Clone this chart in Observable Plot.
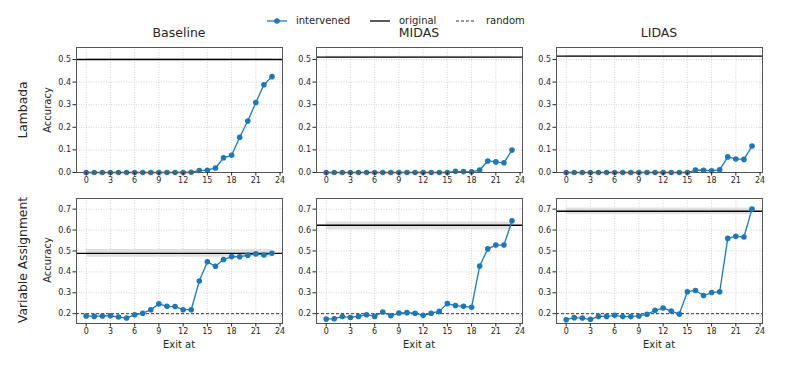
<!DOCTYPE html>
<html><head><meta charset="utf-8">
<script src="https://cdn.jsdelivr.net/npm/d3@7"></script>
<script src="https://cdn.jsdelivr.net/npm/@observablehq/plot@0.6"></script>
<style>
body{margin:0;background:#fff;font-family:"DejaVu Sans",sans-serif;color:#262626}
#wrap{position:relative;width:793px;height:366px;overflow:hidden;background:#fff}
.abs{position:absolute;white-space:nowrap;line-height:1}
.title{font-size:12.5px;transform:translate(-50%,-50%)}
.row{font-size:12.3px;transform:translate(-50%,-50%) rotate(-90deg)}
.ylab{font-size:10px;transform:translate(-50%,-50%) rotate(-90deg)}
.xlab{font-size:10px;transform:translate(-50%,-50%)}
.leg{font-size:10px;transform:translateY(-50%)}
</style></head><body>
<div id="wrap"></div>
<script>
const methods = ["Baseline", "MIDAS", "LIDAS"];
const tasks = ["Lambada", "Variable Assignment"];
const exits = d3.range(24);
const xTicks = [0, 3, 6, 9, 12, 15, 18, 21, 24];
const yTicksLambada = [0, 0.1, 0.2, 0.3, 0.4, 0.5];
const yTicksVA = [0.2, 0.3, 0.4, 0.5, 0.6, 0.7];

// intervened accuracy per exit layer
const lambadaBaseline = [0,0,0,0,0,0,0,0,0,0,0,0,0,0.001,0.009,0.01,0.02,0.065,0.076,0.156,0.228,0.31,0.388,0.424];
const lambadaMIDAS    = [0,0,0,0,0,0,0,0,0,0,0,0,0,0,0,0,0.005,0.004,0.003,0.011,0.051,0.047,0.043,0.099];
const lambadaLIDAS    = [0,0,0,0,0,0,0,0,0,0,0,0,0,0,0,0,0.011,0.01,0.008,0.012,0.069,0.06,0.058,0.117];
const vaBaseline = [0.189,0.187,0.189,0.19,0.184,0.179,0.195,0.202,0.219,0.247,0.235,0.234,0.219,0.219,0.356,0.448,0.427,0.459,0.473,0.472,0.48,0.486,0.481,0.489];
const vaMIDAS    = [0.174,0.176,0.186,0.182,0.187,0.195,0.187,0.208,0.19,0.203,0.205,0.202,0.192,0.202,0.211,0.248,0.239,0.235,0.231,0.428,0.51,0.528,0.528,0.644];
const vaLIDAS    = [0.171,0.181,0.179,0.173,0.187,0.187,0.192,0.186,0.186,0.189,0.197,0.216,0.227,0.213,0.198,0.305,0.311,0.287,0.301,0.305,0.56,0.57,0.567,0.7];

// original accuracy and its band [lo, hi]
const originalLambada = [0.5, 0.51, 0.515];
const originalLambadaBand = [[0.496, 0.504], [0.505, 0.514], [0.51, 0.518]];
const originalVA = [0.488, 0.623, 0.69];
const originalVABand = [[0.47, 0.507], [0.602, 0.639], [0.674, 0.705]];
const randomVA = 0.2;

const intervened = [[lambadaBaseline, lambadaMIDAS, lambadaLIDAS], [vaBaseline, vaMIDAS, vaLIDAS]];
const originals = [originalLambada, originalVA];
const bands = [originalLambadaBand, originalVABand];

const blue = "#1f77b4";
const wrap = document.getElementById("wrap");
const frameLefts = [76, 316, 556];
const frameTops = [47, 198];
const fw = 206, fh = 125;
const ML = 40, MR = 6, MT = 5, MB = 30;
const yDomains = [[0, 0.553], [0.153, 0.751]];

function add(html, cls, x, y) {
  const d = document.createElement("div");
  d.className = "abs " + cls;
  d.style.left = x + "px"; d.style.top = y + "px";
  d.textContent = html;
  wrap.appendChild(d);
}

for (let r = 0; r < 2; r++) {
  for (let c = 0; c < 3; c++) {
    const vals = intervened[r][c];
    const data = exits.map((e, i) => ({x: e, y: vals[i]}));
    const yT = r === 0 ? yTicksLambada : yTicksVA;
    const band = bands[r][c];
    const marks = [
      Plot.gridX(xTicks, {stroke: "#bbb", strokeOpacity: 0.8, strokeDasharray: "1,1.5", strokeWidth: 0.8}),
      Plot.gridY(yT, {stroke: "#bbb", strokeOpacity: 0.8, strokeDasharray: "1,1.5", strokeWidth: 0.8}),
      Plot.areaY([{x: 0}, {x: 23}], {x: "x", y1: () => band[0], y2: () => band[1], fill: "#d9d9d9", fillOpacity: 0.8}),
      Plot.ruleY([originals[r][c]], {stroke: "#000", strokeWidth: 1.3})
    ];
    if (r === 1) marks.push(Plot.ruleY([randomVA], {stroke: "#333", strokeWidth: 1, strokeDasharray: "3,2"}));
    marks.push(
      Plot.line(data, {x: "x", y: "y", stroke: blue, strokeWidth: 1.3}),
      Plot.dot(data, {x: "x", y: "y", r: 2.8, fill: blue, stroke: "none"}),
      Plot.frame({stroke: "#555", strokeWidth: 1}),
      Plot.axisX(xTicks, {tickSize: 3.5, tickPadding: 1.5, label: null, fontSize: 8}),
      Plot.axisY(yT, {tickSize: 3.5, tickPadding: 2, label: null, tickFormat: d3.format(".1f"), fontSize: 8})
    );
    const p = Plot.plot({
      width: ML + fw + MR, height: MT + fh + MB,
      marginLeft: ML, marginRight: MR, marginTop: MT, marginBottom: MB,
      x: {domain: [-1.2, 24.3]},
      y: {domain: yDomains[r]},
      style: {fontFamily: "DejaVu Sans", fontSize: "8px", color: "#262626", background: "transparent", overflow: "visible"},
      marks
    });
    const holder = document.createElement("div");
    holder.style.position = "absolute";
    holder.style.left = (frameLefts[c] - ML) + "px";
    holder.style.top = (frameTops[r] - MT) + "px";
    holder.appendChild(p);
    wrap.appendChild(holder);
  }
}

methods.forEach((m, c) => add(m, "title", frameLefts[c] + fw / 2, 33));
add(tasks[0], "row", 23, 110);
add(tasks[1], "row", 23, 260);
add("Accuracy", "ylab", 48, 110);
add("Accuracy", "ylab", 48, 260);
methods.forEach((m, c) => add("Exit at", "xlab", frameLefts[c] + fw / 2, 345));

// legend
const legend = document.createElementNS("http://www.w3.org/2000/svg", "svg");
legend.setAttribute("width", 793); legend.setAttribute("height", 40);
legend.style.position = "absolute"; legend.style.left = "0px"; legend.style.top = "0px";
legend.innerHTML = `
<line x1="267" x2="287" y1="21" y2="21" stroke="${blue}" stroke-width="1.3"/>
<circle cx="277" cy="21" r="2.8" fill="${blue}"/>
<line x1="370" x2="390" y1="21" y2="21" stroke="#000" stroke-width="1.3"/>
<line x1="456" x2="476" y1="21" y2="21" stroke="#333" stroke-width="1" stroke-dasharray="3,2"/>`;
wrap.appendChild(legend);
add("intervened", "leg", 296, 21);
add("original", "leg", 399, 21);
add("random", "leg", 486, 21);
</script>
</body></html>
